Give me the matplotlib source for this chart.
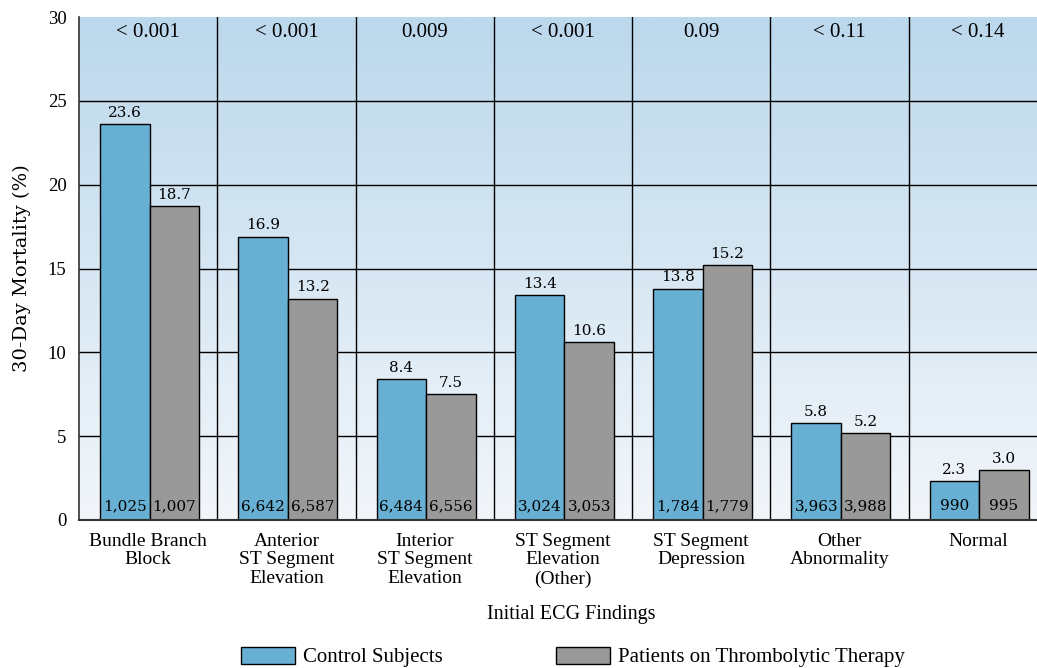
import numpy as np
import matplotlib
matplotlib.use("Agg")
import matplotlib.pyplot as plt
from matplotlib.patches import Patch
from matplotlib.colors import LinearSegmentedColormap

plt.rcParams['font.family'] = ['DejaVu Serif']
LIB = 'Liberation Serif'

categories = ["Bundle Branch\nBlock", "Anterior\nST Segment\nElevation", "Interior\nST Segment\nElevation",
              "ST Segment\nElevation\n(Other)", "ST Segment\nDepression", "Other\nAbnormality", "Normal"]
control = [23.6, 16.9, 8.4, 13.4, 13.8, 5.8, 2.3]
thrombo = [18.7, 13.2, 7.5, 10.6, 15.2, 5.2, 3.0]
control_n = ["1,025", "6,642", "6,484", "3,024", "1,784", "3,963", "990"]
thrombo_n = ["1,007", "6,587", "6,556", "3,053", "1,779", "3,988", "995"]
pvalues = ["< 0.001", "< 0.001", "0.009", "< 0.001", "0.09", "< 0.11", "< 0.14"]

W, H = 1037, 668
fig = plt.figure(figsize=(W/100, H/100), dpi=100)
left, right, top, bottom = 79, 1047, 17, 520
ax = fig.add_axes([left/W, 1-bottom/H, (right-left)/W, (bottom-top)/H])

n = len(categories)
ax.set_xlim(0, n)
ax.set_ylim(0, 30)

cmap = LinearSegmentedColormap.from_list("bg", ["#f2f6fa", "#bcd8ec"])
grad = np.linspace(0, 1, 256).reshape(-1, 1)
ax.imshow(grad, extent=[0, n, 0, 30], origin='lower', aspect='auto', cmap=cmap, zorder=0)

for y in [5, 10, 15, 20, 25]:
    ax.axhline(y, color='black', lw=1.0, zorder=1)
for x in range(1, n):
    ax.axvline(x, color='black', lw=1.0, zorder=1)

w = 0.358
x = np.arange(n) + 0.5
blue = "#67afd3"
gray = "#999999"
ax.bar(x - w/2 + 0.01, control, w, color=blue, edgecolor='black', lw=1.0, zorder=2)
ax.bar(x + w/2 + 0.01, thrombo, w, color=gray, edgecolor='black', lw=1.0, zorder=2)

for i in range(n):
    ax.text(x[i] - w/2 + 0.01, control[i] + 0.25, f"{control[i]:.1f}", ha='center', va='bottom', fontsize=11, zorder=3)
    ax.text(x[i] + w/2 + 0.01, thrombo[i] + 0.25, f"{thrombo[i]:.1f}", ha='center', va='bottom', fontsize=11, zorder=3)
    ax.text(x[i] - w/2 + 0.01, 0.4, control_n[i], ha='center', va='bottom', fontsize=11, zorder=3)
    ax.text(x[i] + w/2 + 0.01, 0.4, thrombo_n[i], ha='center', va='bottom', fontsize=11, zorder=3)
    ax.text(x[i], 29.1, pvalues[i], ha='center', va='center', fontsize=15, family=LIB, zorder=3)

ax.set_xticks(x)
ax.set_xticklabels(categories, fontsize=14, family=LIB, linespacing=1.15, va='top')
ax.tick_params(axis='x', length=0, pad=9)
ax.set_yticks([0, 5, 10, 15, 20, 25, 30])
ax.set_yticklabels([str(v) for v in [0, 5, 10, 15, 20, 25, 30]], family=LIB, fontsize=13.5)
ax.tick_params(axis='y', length=0, pad=9)
for s in ['top', 'right']:
    ax.spines[s].set_visible(False)
ax.spines['left'].set_color('#333333')
ax.spines['bottom'].set_color('#333333')
ax.spines['bottom'].set_linewidth(1.5)
ax.spines['left'].set_linewidth(1.2)

ax.set_ylabel("30-Day Mortality (%)", fontsize=14, labelpad=12)
fig.text(571/W, 1-615/H, "Initial ECG Findings", ha='center', va='center', fontsize=14.5, family=LIB)

handles = [Patch(facecolor=blue, edgecolor='black', label="Control Subjects"),
           Patch(facecolor=gray, edgecolor='black', label="Patients on Thrombolytic Therapy")]
fig.legend(handles=handles, loc='center', bbox_to_anchor=(573/W, 1-657/H), ncol=2, frameon=False,
           prop={'family': LIB, 'size': 15},
           handlelength=2.6, handleheight=0.87, columnspacing=5.4, handletextpad=0.4)

fig.savefig("out.png", dpi=100)
